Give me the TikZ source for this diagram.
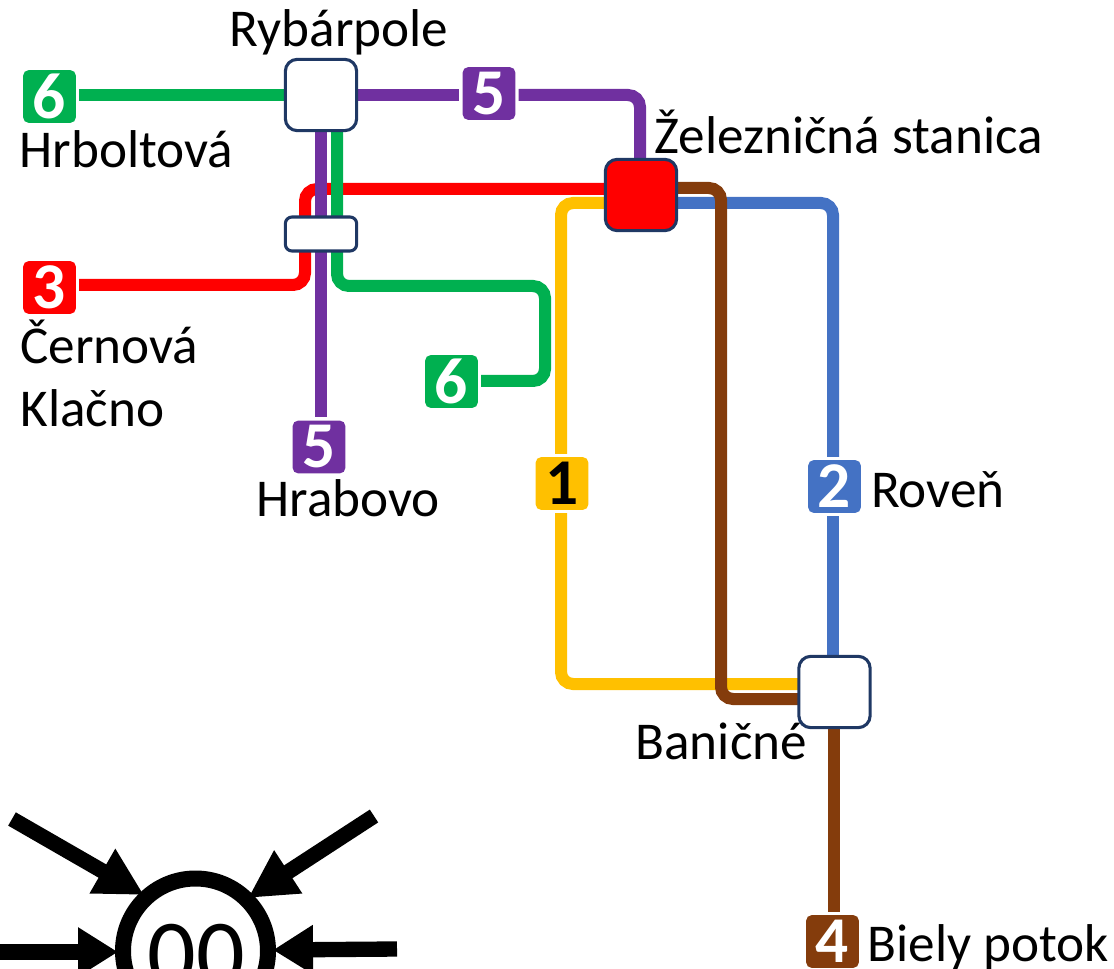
\documentclass[tikz,border=0pt]{standalone}
\usepackage{fontspec}
\setmainfont{Carlito}
\usetikzlibrary{arrows.meta,backgrounds}
\definecolor{cgreen}{HTML}{00B050}
\definecolor{cpurple}{HTML}{7030A0}
\definecolor{cred}{HTML}{FF0000}
\definecolor{cyellow}{HTML}{FFC000}
\definecolor{cblue}{HTML}{4472C4}
\definecolor{cbrown}{HTML}{843C0C}
\definecolor{cnavy}{HTML}{1F3864}
\tikzset{
  metro/.style={line width=9pt,rounded corners=9pt,line cap=butt},
  hubbox/.style={draw=cnavy,line width=2.3pt,fill=white,rounded corners=9pt,minimum width=53.5pt,minimum height=53.5pt,inner sep=0pt,outer sep=0pt},
  flatbox/.style={hubbox,rounded corners=5pt,minimum height=25.5pt},
  badge/.style={fill=#1,rounded corners=4pt,minimum width=39.5pt,minimum height=39.5pt,inner sep=0pt,outer sep=2.5pt,text=white,font=\fontsize{49}{49}\selectfont\bfseries},
  lbl/.style={anchor=base west,inner sep=0pt,outer sep=0pt,text=black,font=\fontsize{39.9}{40}\selectfont},
  bigarrow/.style={line width=11.5pt,-{Triangle[length=30pt,width=35pt]}},
  diagarrow/.style={line width=11.5pt,-{Triangle[length=36pt,width=36pt]}},
}
\begin{document}
\begin{tikzpicture}[x=0.75pt,y=-0.75pt]
\useasboundingbox (0,0) rectangle (1114,969);
\clip (0,0) rectangle (1114,969);
% stations
\node[hubbox] (ryb) at (321,95) {};
\node[flatbox] (mid) at (321,234) {};
\node[hubbox,fill=cred] (zel) at (641,195) {};
\node[hubbox] (ban) at (834.5,692) {};
% badges
\node[badge=cgreen] (g6a) at (49.5,96.5) {6};
\node[badge=cred] (r3) at (49.5,287.5) {3};
\node[badge=cpurple] (p5a) at (489,93.5) {5};
\node[badge=cgreen] (g6b) at (451.5,381.5) {6};
\node[badge=cpurple] (p5b) at (319,447) {5};
\node[badge=cyellow,text=black] (y1) at (562,483.5) {1};
\node[badge=cblue] (b2) at (834.5,486.5) {2};
\node[badge=cbrown] (br4) at (832.5,941.5) {4};
% labels
\node[lbl] (t1) at (229.5,47) {Rybárpole};
\node[lbl] (t2) at (19.5,168) {Hrboltová};
\node[lbl] (t3) at (654.5,154) {Železničná stanica};
\node[lbl] (t4) at (20.5,364) {Černová};
\node[lbl] (t5) at (20.5,427) {Klačno};
\node[lbl] (t6) at (256.5,517) {Hrabovo};
\node[lbl] (t7) at (871,508) {Roveň};
\node[lbl] (t8) at (635.5,759) {Baničné};
\node[lbl] (t9) at (867.5,961) {Biely potok};
% hub
\node[circle,draw=black,line width=12pt,fill=white,minimum size=108.75pt,inner sep=0pt] (hub) at (195.5,951) {};
\node[anchor=base,inner sep=0pt,font=\fontsize{72}{72}\selectfont] (hubt) at (196.5,986) {00};
\coordinate (a1) at (12,819);
\coordinate (a2) at (374,816);
\coordinate (a3) at (-10,952);
\coordinate (a4) at (397,949);
\begin{scope}[on background layer]
\draw[diagarrow] (a1) -- (144,895);
\draw[diagarrow] (a2) -- (248,898);
\draw[bigarrow] (a3) -- (118,952);
\draw[bigarrow] (a4) -- (273,950);
\draw[metro,cred] (zel.west |- 0,189) -- (305,189) -- (305,285) -- (r3.east |- 0,285);
\draw[metro,cyellow] (zel.west |- 0,203) -- (561,203) -- (y1.north -| 561,0);
\draw[metro,cyellow] (y1.south -| 561,0) -- (561,684) -- (ban.west |- 0,684);
\draw[metro,cblue] (zel.east |- 0,203) -- (833,203) -- (b2.north -| 833,0);
\draw[metro,cblue] (b2.south -| 833,0) -- (ban.north -| 833,0);
\draw[metro,cbrown] (zel.east |- 0,188) -- (721,188) -- (721,699) -- (ban.west |- 0,699);
\draw[metro,cbrown,rounded corners=0pt] (ban.south -| 834,0) -- (br4.north -| 834,0);
\draw[metro,cgreen] (g6a.east |- 0,95) -- (ryb.west |- 0,95);
\draw[metro,cpurple] (ryb.east |- 0,95) -- (p5a.west |- 0,95);
\draw[metro,cpurple] (p5a.east |- 0,95) -- (640,95) -- (zel.north -| 640,0);
\draw[metro,cpurple] (ryb.south -| 321,0) -- (p5b.north -| 321,0);
\draw[metro,cgreen] (ryb.south -| 337,0) -- (337,286) -- (545,286) -- (545,381) -- (g6b.east |- 0,381);
\end{scope}
\end{tikzpicture}
\end{document}
